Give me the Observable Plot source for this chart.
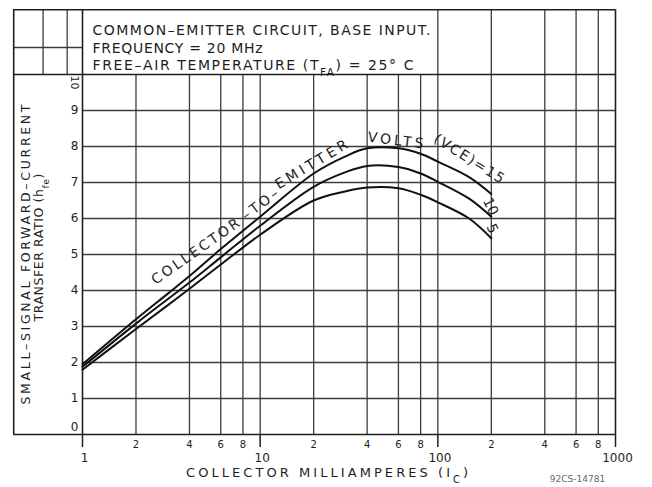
<!DOCTYPE html>
<html><head><meta charset="utf-8">
<script src="https://cdn.jsdelivr.net/npm/d3@7"></script>
<script src="https://cdn.jsdelivr.net/npm/@observablehq/plot@0.6"></script>
<style>body{margin:0;background:#fff;}</style>
</head><body><div id="chart"></div>
<script>
// ---- data ----
const currentMA = [1, 2, 3, 4, 6, 10, 20, 30, 40, 60, 80, 100, 150, 200];
const hfeVce15 = [1.95, 3.2, 3.9, 4.4, 5.15, 6.05, 7.25, 7.72, 7.95, 7.95, 7.8, 7.58, 7.15, 6.68];
const hfeVce10 = [1.88, 3.08, 3.75, 4.22, 4.92, 5.8, 6.88, 7.28, 7.46, 7.43, 7.25, 7.02, 6.55, 6.05];
const hfeVce5  = [1.8, 2.93, 3.58, 4.05, 4.72, 5.55, 6.5, 6.75, 6.86, 6.84, 6.66, 6.45, 6.0, 5.45];
const seriesVce = [15, 10, 5];

// tick values / labels
const majorTicks = [1, 10, 100, 1000];
const minorTicks = [2, 4, 6, 8, 20, 40, 60, 80, 200, 400, 600, 800];
const minorTickLabels = ["2", "4", "6", "8", "2", "4", "6", "8", "2", "4", "6", "8"];
const yTicks = [1, 2, 3, 4, 5, 6, 7, 8, 9];

// grid-paper lines
const gridX = [2, 4, 6, 8, 10, 20, 40, 60, 80, 100, 200, 400, 600, 800];
const upperGridX = [100, 200, 400, 600, 800];
const leftGridX = [0.6, 0.82];
const frameX = [0.41, 1, 1000];
const frameY = [0, 10, 11.8];
const leftGridY = [10.75];

// texts
const titleLines = ["COMMON–EMITTER CIRCUIT, BASE INPUT.", "FREQUENCY = 20 MHz", "FREE–AIR TEMPERATURE (T_{FA}) = 25° C"];
const yLabelLines = ["SMALL–SIGNAL FORWARD–CURRENT", "TRANSFER RATIO (h_{fe})"];
const xLabel = "COLLECTOR MILLIAMPERES (I_{C})";
const figCode = "92CS-14781";

// curve annotation (words placed along the top curve)
const curveLabels = ["COLLECTOR", "–TO–", "EMITTER", "VOLTS", "(VCE)=15", "10", "5"];
const curveLabelX = [4.33, 10.0, 19.45, 57.8, 150, 198, 202];
const curveLabelY = [5.08, 6.39, 7.5, 8.17, 7.66, 6.33, 5.72];
const curveLabelAngle = [-35, -37, -31, 7, 32, 65, 65];

// build the table
const rows = [];
[hfeVce15, hfeVce10, hfeVce5].forEach((vals, s) => {
  currentMA.forEach((ic, i) => rows.push({ic, hfe: vals[i], vce: seriesVce[s]}));
});

const ink = "#1e1e1e";
const grid = "#3c3c3c";
const font = "DejaVu Sans";

const chart = Plot.plot({
  width: 652, height: 487,
  marginLeft: 82, marginRight: 37, marginTop: 74, marginBottom: 53,
  x: {type: "log", domain: [1, 1000], axis: null},
  y: {domain: [0, 10], axis: null},
  style: {background: "white", fontFamily: font},
  marks: [
    Plot.ruleX(gridX, {x: d => d, y1: 0, y2: 10, stroke: grid, strokeWidth: 1.3}),
    Plot.ruleX(upperGridX, {x: d => d, y1: 10, y2: 11.8, stroke: grid, strokeWidth: 1.3}),
    Plot.ruleX(leftGridX, {x: d => d, y1: 10, y2: 11.8, stroke: grid, strokeWidth: 1.3}),
    Plot.ruleY(yTicks, {y: d => d, x1: 1, x2: 1000, stroke: grid, strokeWidth: 1.3}),
    Plot.ruleY(leftGridY, {y: d => d, x1: 0.41, x2: 1, stroke: grid, strokeWidth: 1.3}),
    Plot.ruleY(frameY, {y: d => d, x1: 0.41, x2: 1000, stroke: ink, strokeWidth: 1.6}),
    Plot.ruleX(frameX, {x: d => d, y1: 0, y2: 11.8, stroke: ink, strokeWidth: 1.6}),
    Plot.ruleX(majorTicks, {x: d => d, y1: 0, y2: -0.36, stroke: ink, strokeWidth: 1.5}),

    Plot.line(rows, {x: "ic", y: "hfe", z: "vce", curve: "catmull-rom", stroke: "#111", strokeWidth: 2}),

    // tick labels
    Plot.text(yTicks, {x: 1, y: d => d, dx: -8, text: d => String(d), fontSize: 12, fill: ink}),
    Plot.text([0], {x: 1, y: d => d, dx: -8, dy: -7, text: d => String(d), fontSize: 12, fill: ink}),
    Plot.text([10], {x: 1, y: d => d, dx: -8, dy: 8, rotate: 90, text: d => String(d), fontSize: 11, fill: ink}),
    Plot.text(minorTicks, {x: d => d, y: 0, dy: 10, text: (d, i) => minorTickLabels[i], fontSize: 10, fill: ink}),
    Plot.text(majorTicks, {x: d => d, y: 0, dy: 24, dx: 2, text: d => String(d), fontSize: 12, fill: ink}),

    // curve annotations
    Plot.text(curveLabels, {x: (d, i) => curveLabelX[i], y: (d, i) => curveLabelY[i], rotate: (d, i) => curveLabelAngle[i],
      text: d => d, fontSize: 14, fill: ink}),

    // title block
    Plot.text([titleLines[0]], {frameAnchor: "top-left", dx: 10, dy: -49, textAnchor: "start", fontSize: 14, fill: ink}),
    Plot.text([titleLines[1]], {frameAnchor: "top-left", dx: 10, dy: -31, textAnchor: "start", fontSize: 14, fill: ink}),
    Plot.text([titleLines[2]], {frameAnchor: "top-left", dx: 10, dy: -14, textAnchor: "start", fontSize: 14, fill: ink}),

    // axis titles
    Plot.text([yLabelLines[0]], {frameAnchor: "left", textAnchor: "middle", dx: -57, dy: 0, rotate: -90, fontSize: 12.5, fill: ink}),
    Plot.text([yLabelLines[1]], {frameAnchor: "left", textAnchor: "middle", dx: -44, dy: -7, rotate: -90, fontSize: 12.5, fill: ink}),
    Plot.text([xLabel], {frameAnchor: "bottom", textAnchor: "middle", dx: -22, dy: 42, fontSize: 13, fill: ink}),
    Plot.text([figCode], {frameAnchor: "bottom-right", textAnchor: "middle", dx: -38, dy: 47, fontSize: 9, fill: "#666"})
  ]
});

// stretch lettering to match the drafted widths
const fitLengths = new Map([
  [titleLines[0], 338], [titleLines[1], 170], [titleLines[2], 321],
  [yLabelLines[0], 300], [yLabelLines[1], 148], [xLabel, 282],
  ["COLLECTOR", 104], ["–TO–", 42], ["EMITTER", 82], ["VOLTS", 56], ["(VCE)=15", 80]
]);
chart.querySelectorAll("text").forEach(t => {
  const s = t.textContent;
  if (fitLengths.has(s)) {
    t.setAttribute("textLength", fitLengths.get(s));
    t.setAttribute("lengthAdjust", "spacing");
  }
  if (s.includes("_{")) {
    t.innerHTML = s.replace(/_\{([^}]*)\}/g, '<tspan baseline-shift="sub" font-size="75%">$1</tspan>');
  }
});

document.getElementById("chart").appendChild(chart);
</script></body></html>
